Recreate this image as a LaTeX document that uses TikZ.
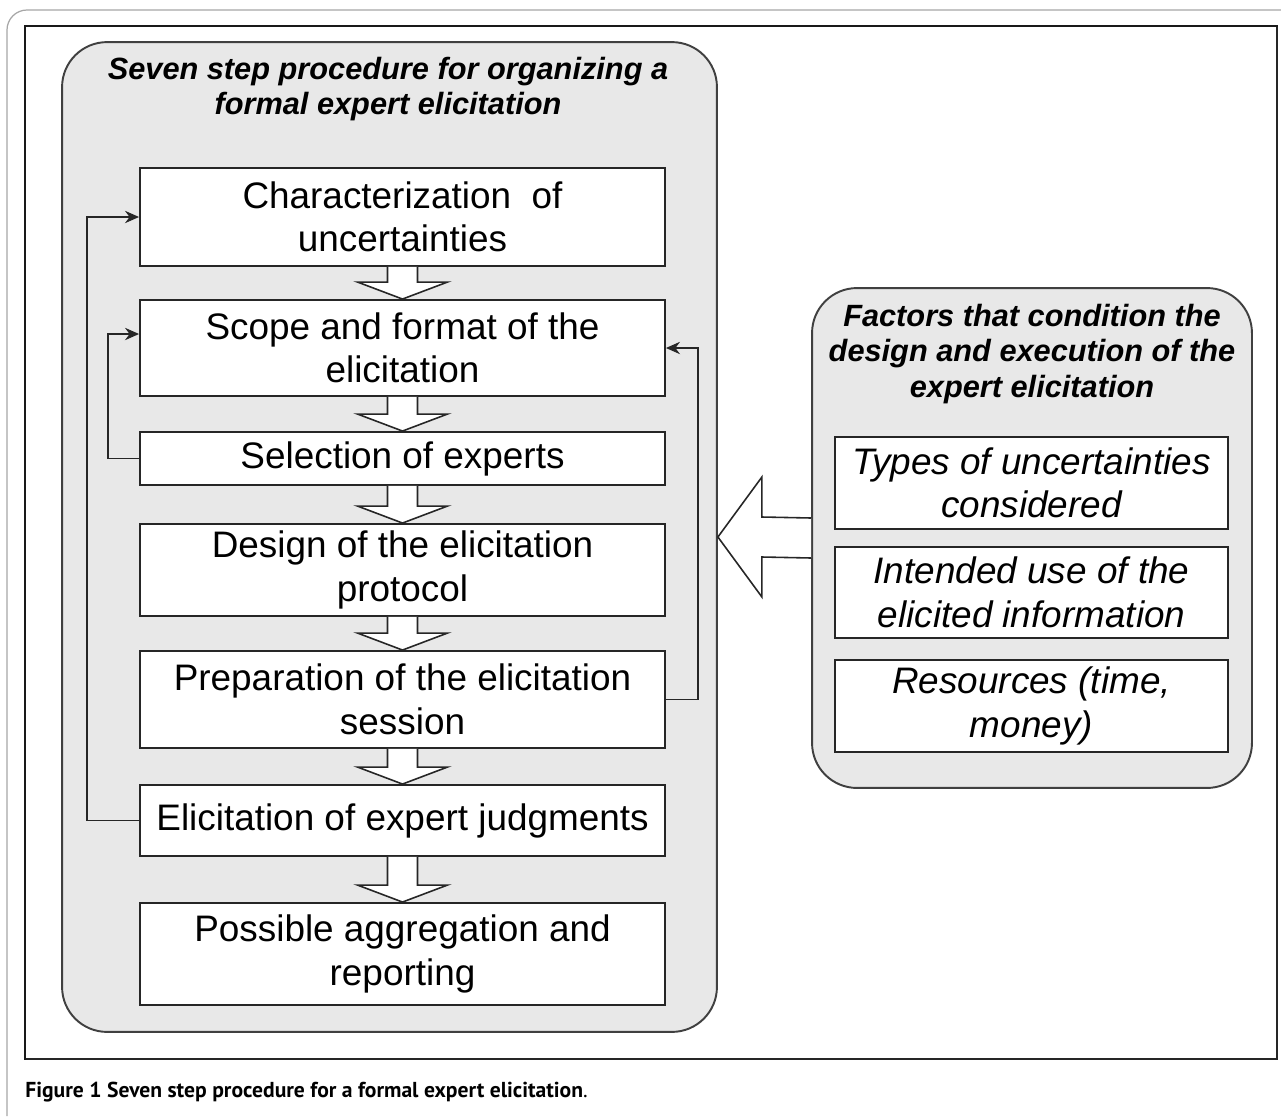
\documentclass[tikz,border=0pt]{standalone}
\usepackage{fontspec}
\setmainfont{Liberation Sans}
\newfontfamily\capfont{PT Sans}
\usetikzlibrary{arrows.meta,calc,positioning}

% white block arrow between two steps
\newcommand\flowarrow[2]{%
  \draw[blockarrow] ($(#1.south)+(-15,0)$) -- ($(#2.north)+(-15,-17)$)
    -- ($(#2.north)+(-45,-17)$) -- (#2.north) -- ($(#2.north)+(45,-17)$)
    -- ($(#2.north)+(15,-17)$) -- ($(#1.south)+(15,0)$);}

\begin{document}
\begin{tikzpicture}[x=0.02cm,y=-0.02cm,
  panel/.style={draw=black!75,fill=black!9,line width=1.1pt,rounded corners=0.9cm,inner sep=0pt},
  paneltitle/.style={align=center,font=\fontsize{17.5}{20}\selectfont\bfseries\itshape},
  stepbox/.style={draw=black!85,fill=white,line width=1.1pt,inner sep=0pt,minimum width=10.5cm,
    align=center,font=\fontsize{21}{24.8}\selectfont},
  factorbox/.style={stepbox,minimum width=7.86cm,font=\fontsize{21}{24.8}\selectfont\itshape},
  blockarrow/.style={draw=black!85,fill=white,line width=0.9pt,line join=miter},
  feedback/.style={draw=black!85,line width=1pt,-{Stealth[length=8pt,width=7pt]}}]
  \useasboundingbox (0,0) rectangle (1281,1116);
  % frames
  \draw[black!35,line width=0.7pt,rounded corners=0.4cm] (7,1116) -- (7,10) -- (1281,10);
  \draw[black!90,line width=1pt] (25,26) rectangle (1277,1059);
  \draw[black!85,line width=1.6pt] (1277,27) -- (1277,1059) -- (26,1059);
  % panels
  \node[panel,minimum width=13.1cm,minimum height=19.8cm] (panL) at (389.5,537) {};
  \node[panel,minimum width=8.8cm,minimum height=10cm] (panR) at (1032,538) {};
  \node[paneltitle] (titL) at (388,89) {Seven step procedure for organizing a\\formal expert elicitation};
  \node[paneltitle] (titR) at (1032,354) {Factors that condition the\\design and execution of the\\expert elicitation};
  % steps
  \node[stepbox,minimum height=1.96cm] (b1) at (402.5,217) {Characterization \ of\\uncertainties};
  \node[stepbox,minimum height=1.92cm] (b2) at (402.5,348) {Scope and format of the\\elicitation};
  \node[stepbox,minimum height=1.06cm] (b3) at (402.5,458.5) {Selection of experts};
  \node[stepbox,minimum height=1.84cm] (b4) at (402.5,570) {Design of the elicitation\\protocol};
  \node[stepbox,minimum height=1.94cm] (b5) at (402.5,699.5) {Preparation of the elicitation\\session};
  \node[stepbox,minimum height=1.42cm] (b6) at (402.5,820.5) {Elicitation of expert judgments};
  \node[stepbox,minimum height=2.04cm] (b7) at (402.5,954) {Possible aggregation and\\reporting};
  % factors
  \node[factorbox,minimum height=1.84cm] (f1) at (1031.5,483) {Types of uncertainties\\considered};
  \node[factorbox,minimum height=1.82cm] (f2) at (1031.5,592.5) {Intended use of the\\elicited information};
  \node[factorbox,minimum height=1.84cm] (f3) at (1031.5,706) {Resources (time,\\money)};
  % arrows between steps
  \flowarrow{b1}{b2}
  \flowarrow{b2}{b3}
  \flowarrow{b3}{b4}
  \flowarrow{b4}{b5}
  \flowarrow{b5}{b6}
  \flowarrow{b6}{b7}
  % loops back
  \draw[feedback] (b6.west) -- ++(-52,0) |- (b1.west);
  \draw[feedback] (b3.west) -- ++(-31,0) |- ([yshift=0.28cm]b2.west);
  \draw[feedback] (b5.east) -- ++(32,0) |- (b2.east);
  % factors act on the procedure
  \draw[blockarrow] ($(panR.west)+(0,-20)$) -- ($(panL.east)+(44,-20)$) -- ($(panL.east)+(44,-60)$)
    -- (panL.east) -- ($(panL.east)+(44,60)$) -- ($(panL.east)+(44,20)$) -- ($(panR.west)+(0,20)$);
  % caption
  \node[anchor=west,inner sep=0pt,font=\capfont\fontsize{12.3}{14}\selectfont] (cap) at (25,1092)
    {\textbf{Figure 1 Seven step procedure for a formal expert elicitation}.};
\end{tikzpicture}
\end{document}
